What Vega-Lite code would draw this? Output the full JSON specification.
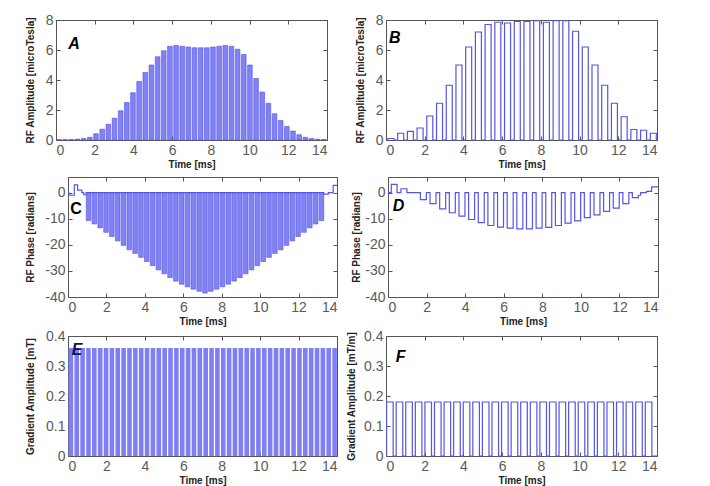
{
  "$schema": "https://vega.github.io/schema/vega-lite/v6.json",
  "background": "white",
  "padding": {"left": 23, "top": 12, "right": 0, "bottom": 0},
  "config": {
    "font": "Liberation Sans",
    "view": {"stroke": "#555555", "strokeWidth": 1},
    "axis": {
      "labelFont": "Liberation Sans", "labelFontSize": 14, "labelColor": "#5a5a5a",
      "titleFont": "Liberation Sans", "titleFontSize": 10, "titleFontWeight": "bold", "titleColor": "#222222",
      "tickColor": "#555555", "tickSize": -4, "domain": false, "grid": false,
      "labelPadding": 7, "titlePadding": 2
    },
    "axisY": {"titleFontSize": 10, "titleBaseline": "middle"}
  },
  "datasets": {
    "a": [
      {"t0":0.04,"t1":0.28,"v":0.03},{"t0":0.358,"t1":0.598,"v":0.03},{"t0":0.676,"t1":0.916,"v":0.04},{"t0":0.994,"t1":1.234,"v":0.06},
      {"t0":1.312,"t1":1.552,"v":0.1},{"t0":1.63,"t1":1.87,"v":0.18},{"t0":1.948,"t1":2.188,"v":0.42},{"t0":2.266,"t1":2.506,"v":0.72},
      {"t0":2.584,"t1":2.824,"v":1.05},{"t0":2.902,"t1":3.142,"v":1.45},{"t0":3.22,"t1":3.46,"v":1.95},{"t0":3.538,"t1":3.778,"v":2.5},
      {"t0":3.856,"t1":4.096,"v":3.15},{"t0":4.174,"t1":4.414,"v":3.9},{"t0":4.492,"t1":4.732,"v":4.5},{"t0":4.81,"t1":5.05,"v":5.0},
      {"t0":5.128,"t1":5.368,"v":5.55},{"t0":5.446,"t1":5.686,"v":5.95},{"t0":5.764,"t1":6.004,"v":6.25},{"t0":6.082,"t1":6.322,"v":6.3},
      {"t0":6.4,"t1":6.64,"v":6.25},{"t0":6.718,"t1":6.958,"v":6.2},{"t0":7.036,"t1":7.276,"v":6.15},{"t0":7.354,"t1":7.594,"v":6.15},
      {"t0":7.672,"t1":7.912,"v":6.15},{"t0":7.99,"t1":8.23,"v":6.2},{"t0":8.308,"t1":8.548,"v":6.25},{"t0":8.626,"t1":8.866,"v":6.3},
      {"t0":8.944,"t1":9.184,"v":6.25},{"t0":9.262,"t1":9.502,"v":6.05},{"t0":9.58,"t1":9.82,"v":5.7},{"t0":9.898,"t1":10.138,"v":5.0},
      {"t0":10.216,"t1":10.456,"v":4.1},{"t0":10.534,"t1":10.774,"v":3.2},{"t0":10.852,"t1":11.092,"v":2.45},{"t0":11.17,"t1":11.41,"v":1.75},
      {"t0":11.488,"t1":11.728,"v":1.3},{"t0":11.806,"t1":12.046,"v":0.9},{"t0":12.124,"t1":12.364,"v":0.6},{"t0":12.442,"t1":12.682,"v":0.35},
      {"t0":12.76,"t1":13.0,"v":0.18},{"t0":13.078,"t1":13.318,"v":0.1},{"t0":13.396,"t1":13.636,"v":0.05},{"t0":13.714,"t1":13.954,"v":0.04}
    ],
    "b": [
      {"t":0,"v":0},
      {"t":0.1,"v":0.1},{"t":0.41,"v":0},{"t":0.602,"v":0.45},{"t":0.912,"v":0},{"t":1.104,"v":0.57},{"t":1.414,"v":0},
      {"t":1.606,"v":0.8},{"t":1.916,"v":0},{"t":2.108,"v":1.6},{"t":2.418,"v":0},{"t":2.61,"v":2.45},{"t":2.92,"v":0},
      {"t":3.112,"v":3.65},{"t":3.422,"v":0},{"t":3.614,"v":5.0},{"t":3.924,"v":0},{"t":4.116,"v":6.2},{"t":4.426,"v":0},
      {"t":4.618,"v":7.2},{"t":4.928,"v":0},{"t":5.12,"v":7.7},{"t":5.43,"v":0},{"t":5.622,"v":7.85},{"t":5.932,"v":0},
      {"t":6.124,"v":7.8},{"t":6.434,"v":0},{"t":6.626,"v":7.9},{"t":6.936,"v":0},{"t":7.128,"v":7.9},{"t":7.438,"v":0},
      {"t":7.63,"v":7.95},{"t":7.94,"v":0},{"t":8.132,"v":7.85},{"t":8.442,"v":0},{"t":8.634,"v":7.95},{"t":8.944,"v":0},
      {"t":9.136,"v":7.95},{"t":9.446,"v":0},{"t":9.638,"v":7.25},{"t":9.948,"v":0},{"t":10.14,"v":6.2},{"t":10.45,"v":0},
      {"t":10.642,"v":5.0},{"t":10.952,"v":0},{"t":11.144,"v":3.65},{"t":11.454,"v":0},{"t":11.646,"v":2.45},{"t":11.956,"v":0},
      {"t":12.148,"v":1.55},{"t":12.458,"v":0},{"t":12.65,"v":0.7},{"t":12.96,"v":0},{"t":13.152,"v":0.65},{"t":13.462,"v":0},
      {"t":13.654,"v":0.45},{"t":13.964,"v":0},{"t":14,"v":0}
    ],
    "c": [
      {"t0":0.95,"t1":1.19,"v":-10.7},{"t0":1.253,"t1":1.493,"v":-12.0},{"t0":1.556,"t1":1.796,"v":-13.5},{"t0":1.859,"t1":2.099,"v":-15.2},
      {"t0":2.162,"t1":2.402,"v":-16.8},{"t0":2.465,"t1":2.705,"v":-18.5},{"t0":2.768,"t1":3.008,"v":-20.2},{"t0":3.071,"t1":3.311,"v":-21.9},
      {"t0":3.374,"t1":3.614,"v":-23.3},{"t0":3.677,"t1":3.917,"v":-24.8},{"t0":3.98,"t1":4.22,"v":-26.4},{"t0":4.283,"t1":4.523,"v":-28.0},
      {"t0":4.586,"t1":4.826,"v":-29.6},{"t0":4.889,"t1":5.129,"v":-31.1},{"t0":5.192,"t1":5.432,"v":-32.6},{"t0":5.495,"t1":5.735,"v":-33.9},
      {"t0":5.798,"t1":6.038,"v":-35.1},{"t0":6.101,"t1":6.341,"v":-36.1},{"t0":6.404,"t1":6.644,"v":-37.0},{"t0":6.707,"t1":6.947,"v":-37.8},
      {"t0":7.01,"t1":7.25,"v":-38.5},{"t0":7.313,"t1":7.553,"v":-37.8},{"t0":7.616,"t1":7.856,"v":-37.0},{"t0":7.919,"t1":8.159,"v":-36.1},
      {"t0":8.222,"t1":8.462,"v":-35.1},{"t0":8.525,"t1":8.765,"v":-33.9},{"t0":8.828,"t1":9.068,"v":-32.6},{"t0":9.131,"t1":9.371,"v":-31.1},
      {"t0":9.434,"t1":9.674,"v":-29.6},{"t0":9.737,"t1":9.977,"v":-28.0},{"t0":10.04,"t1":10.28,"v":-26.4},{"t0":10.343,"t1":10.583,"v":-24.8},
      {"t0":10.646,"t1":10.886,"v":-23.3},{"t0":10.949,"t1":11.189,"v":-21.9},{"t0":11.252,"t1":11.492,"v":-20.2},{"t0":11.555,"t1":11.795,"v":-18.5},
      {"t0":11.858,"t1":12.098,"v":-16.8},{"t0":12.161,"t1":12.401,"v":-15.2},{"t0":12.464,"t1":12.704,"v":-13.5},{"t0":12.767,"t1":13.007,"v":-12.0},
      {"t0":13.07,"t1":13.31,"v":-10.7}
    ],
    "cw": [
      {"t":0,"v":-0.3},{"t":0.1,"v":-1},{"t":0.33,"v":3},{"t":0.5,"v":1},{"t":0.72,"v":0},{"t":0.82,"v":-0.8},{"t":0.95,"v":0},
      {"t":13.31,"v":-0.6},{"t":13.55,"v":0},{"t":13.8,"v":2.8},{"t":14,"v":2.8}
    ],
    "d": [
      {"t":0,"v":0},{"t":0.17,"v":3.2},{"t":0.47,"v":0},{"t":0.67,"v":1.5},{"t":0.98,"v":0},
      {"t":1.68,"v":-2.7},{"t":1.99,"v":0},{"t":2.18,"v":-4.2},{"t":2.49,"v":0},{"t":2.68,"v":-6.2},{"t":2.99,"v":0},
      {"t":3.18,"v":-7.7},{"t":3.49,"v":0},{"t":3.68,"v":-9.0},{"t":3.99,"v":0},{"t":4.18,"v":-10.3},{"t":4.49,"v":0},
      {"t":4.68,"v":-11.5},{"t":4.99,"v":0},{"t":5.18,"v":-12.6},{"t":5.49,"v":0},{"t":5.68,"v":-13.2},{"t":5.99,"v":0},
      {"t":6.18,"v":-13.6},{"t":6.49,"v":0},{"t":6.68,"v":-13.9},{"t":6.99,"v":0},{"t":7.18,"v":-13.9},{"t":7.49,"v":0},
      {"t":7.68,"v":-13.6},{"t":7.99,"v":0},{"t":8.18,"v":-13.3},{"t":8.49,"v":0},{"t":8.68,"v":-12.6},{"t":8.99,"v":0},
      {"t":9.18,"v":-11.7},{"t":9.49,"v":0},{"t":9.68,"v":-10.8},{"t":9.99,"v":0},{"t":10.18,"v":-9.6},{"t":10.49,"v":0},
      {"t":10.68,"v":-8.5},{"t":10.99,"v":0},{"t":11.18,"v":-7.2},{"t":11.49,"v":0},{"t":11.68,"v":-5.9},{"t":11.99,"v":0},
      {"t":12.18,"v":-4.2},{"t":12.49,"v":0},{"t":12.67,"v":-1.9},{"t":12.98,"v":-1.0},{"t":13.1,"v":0},{"t":13.4,"v":0.5},
      {"t":13.67,"v":2.2},{"t":14,"v":2.2}
    ],
    "e": [
      {"t0":0.03,"t1":0.27,"v":0.36},{"t0":0.335,"t1":0.575,"v":0.36},{"t0":0.64,"t1":0.88,"v":0.36},{"t0":0.945,"t1":1.185,"v":0.36},
      {"t0":1.25,"t1":1.49,"v":0.36},{"t0":1.555,"t1":1.795,"v":0.36},{"t0":1.86,"t1":2.1,"v":0.36},{"t0":2.165,"t1":2.405,"v":0.36},
      {"t0":2.47,"t1":2.71,"v":0.36},{"t0":2.775,"t1":3.015,"v":0.36},{"t0":3.08,"t1":3.32,"v":0.36},{"t0":3.385,"t1":3.625,"v":0.36},
      {"t0":3.69,"t1":3.93,"v":0.36},{"t0":3.995,"t1":4.235,"v":0.36},{"t0":4.3,"t1":4.54,"v":0.36},{"t0":4.605,"t1":4.845,"v":0.36},
      {"t0":4.91,"t1":5.15,"v":0.36},{"t0":5.215,"t1":5.455,"v":0.36},{"t0":5.52,"t1":5.76,"v":0.36},{"t0":5.825,"t1":6.065,"v":0.36},
      {"t0":6.13,"t1":6.37,"v":0.36},{"t0":6.435,"t1":6.675,"v":0.36},{"t0":6.74,"t1":6.98,"v":0.36},{"t0":7.045,"t1":7.285,"v":0.36},
      {"t0":7.35,"t1":7.59,"v":0.36},{"t0":7.655,"t1":7.895,"v":0.36},{"t0":7.96,"t1":8.2,"v":0.36},{"t0":8.265,"t1":8.505,"v":0.36},
      {"t0":8.57,"t1":8.81,"v":0.36},{"t0":8.875,"t1":9.115,"v":0.36},{"t0":9.18,"t1":9.42,"v":0.36},{"t0":9.485,"t1":9.725,"v":0.36},
      {"t0":9.79,"t1":10.03,"v":0.36},{"t0":10.095,"t1":10.335,"v":0.36},{"t0":10.4,"t1":10.64,"v":0.36},{"t0":10.705,"t1":10.945,"v":0.36},
      {"t0":11.01,"t1":11.25,"v":0.36},{"t0":11.315,"t1":11.555,"v":0.36},{"t0":11.62,"t1":11.86,"v":0.36},{"t0":11.925,"t1":12.165,"v":0.36},
      {"t0":12.23,"t1":12.47,"v":0.36},{"t0":12.535,"t1":12.775,"v":0.36},{"t0":12.84,"t1":13.08,"v":0.36},{"t0":13.145,"t1":13.385,"v":0.36},
      {"t0":13.45,"t1":13.69,"v":0.36},{"t0":13.755,"t1":13.995,"v":0.36}
    ],
    "f": [
      {"t":0,"v":0},
      {"t":0.03,"v":0.18},{"t":0.37,"v":0},{"t":0.525,"v":0.18},{"t":0.865,"v":0},{"t":1.02,"v":0.18},{"t":1.36,"v":0},
      {"t":1.515,"v":0.18},{"t":1.855,"v":0},{"t":2.01,"v":0.18},{"t":2.35,"v":0},{"t":2.505,"v":0.18},{"t":2.845,"v":0},
      {"t":3.0,"v":0.18},{"t":3.34,"v":0},{"t":3.495,"v":0.18},{"t":3.835,"v":0},{"t":3.99,"v":0.18},{"t":4.33,"v":0},
      {"t":4.485,"v":0.18},{"t":4.825,"v":0},{"t":4.98,"v":0.18},{"t":5.32,"v":0},{"t":5.475,"v":0.18},{"t":5.815,"v":0},
      {"t":5.97,"v":0.18},{"t":6.31,"v":0},{"t":6.465,"v":0.18},{"t":6.805,"v":0},{"t":6.96,"v":0.18},{"t":7.3,"v":0},
      {"t":7.455,"v":0.18},{"t":7.795,"v":0},{"t":7.95,"v":0.18},{"t":8.29,"v":0},{"t":8.445,"v":0.18},{"t":8.785,"v":0},
      {"t":8.94,"v":0.18},{"t":9.28,"v":0},{"t":9.435,"v":0.18},{"t":9.775,"v":0},{"t":9.93,"v":0.18},{"t":10.27,"v":0},
      {"t":10.425,"v":0.18},{"t":10.765,"v":0},{"t":10.92,"v":0.18},{"t":11.26,"v":0},{"t":11.415,"v":0.18},{"t":11.755,"v":0},
      {"t":11.91,"v":0.18},{"t":12.25,"v":0},{"t":12.405,"v":0.18},{"t":12.745,"v":0},{"t":12.9,"v":0.18},{"t":13.24,"v":0},
      {"t":13.395,"v":0.18},{"t":13.735,"v":0},{"t":14,"v":0}
    ]
  },
  "concat": [
    {
      "hconcat": [
        {
          "hconcat": [
            {"width": 1, "height": 1, "view": {"stroke": null}, "data": {"values": []}, "mark": "point", "encoding": {}},
            {
              "width": 271, "height": 120,
              "layer": [
                {
                  "data": {"name": "a"},
                  "mark": {"type": "rect", "fill": "#8282f4", "stroke": "#5050e6", "strokeWidth": 0.6},
                  "encoding": {
                    "x": {"field": "t0", "type": "quantitative", "scale": {"domain": [0, 14], "nice": false},
                          "axis": {"orient": "bottom", "values": [0,2,4,6,8,10,12,14], "title": "Time [ms]"}},
                    "x2": {"field": "t1"},
                    "y": {"field": "v", "type": "quantitative", "scale": {"domain": [0, 8], "nice": false},
                          "axis": {"values": [0,2,4,6,8], "title": "RF Amplitude [microTesla]", "titleX": -26}},
                    "y2": {"datum": 0}
                  }
                },
                {
                  "data": {"values": [{"t": 0.93, "v": 6.43, "lab": "A"}]},
                  "mark": {"type": "text", "font": "Liberation Sans", "fontSize": 16, "fontWeight": "bold", "fontStyle": "italic", "color": "black"},
                  "encoding": {
                    "x": {"field": "t", "type": "quantitative", "axis": {"orient": "top", "labels": false, "title": null, "values": [0,2,4,6,8,10,12,14]}},
                    "y": {"field": "v", "type": "quantitative", "axis": {"orient": "right", "labels": false, "title": null, "values": [0,2,4,6,8]}},
                    "text": {"field": "lab"}
                  }
                }
              ],
              "resolve": {"axis": {"x": "independent", "y": "independent"}}
            }
          ],
          "spacing": 0
        },
        {
          "width": 271, "height": 120,
          "layer": [
            {
              "data": {"name": "b"},
              "mark": {"type": "line", "interpolate": "step-after", "color": "#5555e6", "strokeWidth": 1.2},
              "encoding": {
                "x": {"field": "t", "type": "quantitative", "scale": {"domain": [0, 14], "nice": false},
                      "axis": {"orient": "bottom", "values": [0,2,4,6,8,10,12,14], "title": "Time [ms]"}},
                "y": {"field": "v", "type": "quantitative", "scale": {"domain": [0, 8], "nice": false},
                      "axis": {"values": [0,2,4,6,8], "title": "RF Amplitude [microTesla]", "titleX": -26}}
              }
            },
            {
              "data": {"values": [{"t": 0.46, "v": 6.8, "lab": "B"}]},
              "mark": {"type": "text", "font": "Liberation Sans", "fontSize": 16, "fontWeight": "bold", "fontStyle": "italic", "color": "black"},
              "encoding": {
                "x": {"field": "t", "type": "quantitative", "axis": {"orient": "top", "labels": false, "title": null, "values": [0,2,4,6,8,10,12,14]}},
                "y": {"field": "v", "type": "quantitative", "axis": {"orient": "right", "labels": false, "title": null, "values": [0,2,4,6,8]}},
                "text": {"field": "lab"}
              }
            }
          ],
          "resolve": {"axis": {"x": "independent", "y": "independent"}}
        }
      ],
      "spacing": 26
    },
    {
      "concat": [
        {
          "hconcat": [
            {
              "hconcat": [
                {"width": 1, "height": 1, "view": {"stroke": null}, "data": {"values": []}, "mark": "point", "encoding": {}},
                {
                  "width": 269, "height": 120,
                  "layer": [
                    {
                      "data": {"name": "c"},
                      "mark": {"type": "rect", "fill": "#8282f4", "stroke": "#5050e6", "strokeWidth": 0.6},
                      "encoding": {
                        "x": {"field": "t0", "type": "quantitative", "scale": {"domain": [0, 14], "nice": false},
                              "axis": {"orient": "bottom", "values": [0,2,4,6,8,10,12,14], "title": "Time [ms]"}},
                        "x2": {"field": "t1"},
                        "y": {"field": "v", "type": "quantitative", "scale": {"domain": [-40, 6], "nice": false},
                              "axis": {"values": [0,-10,-20,-30,-40], "labelExpr": "datum.value + ''", "title": "RF Phase [radians]", "titleX": -38}},
                        "y2": {"datum": 0}
                      }
                    },
                    {
                      "data": {"name": "cw"},
                      "mark": {"type": "line", "interpolate": "step-after", "color": "#5555e6", "strokeWidth": 1.2},
                      "encoding": {
                        "x": {"field": "t", "type": "quantitative", "axis": null},
                        "y": {"field": "v", "type": "quantitative", "axis": null}
                      }
                    },
                    {
                      "data": {"values": [{"t": 0.42, "v": -6.1, "lab": "C"}]},
                      "mark": {"type": "text", "font": "Liberation Sans", "fontSize": 16, "fontWeight": "bold", "color": "black"},
                      "encoding": {
                        "x": {"field": "t", "type": "quantitative", "axis": {"orient": "top", "labels": false, "title": null, "values": [0,2,4,6,8,10,12,14]}},
                        "y": {"field": "v", "type": "quantitative", "axis": {"orient": "right", "labels": false, "title": null, "values": [0,-10,-20,-30,-40]}},
                        "text": {"field": "lab"}
                      }
                    }
                  ],
                  "resolve": {"axis": {"x": "independent", "y": "independent"}}
                }
              ],
              "spacing": 0
            },
            {
              "width": 270, "height": 120,
              "layer": [
                {
                  "data": {"name": "d"},
                  "mark": {"type": "line", "interpolate": "step-after", "color": "#5555e6", "strokeWidth": 1.2},
                  "encoding": {
                    "x": {"field": "t", "type": "quantitative", "scale": {"domain": [0, 14], "nice": false},
                          "axis": {"orient": "bottom", "values": [0,2,4,6,8,10,12,14], "title": "Time [ms]"}},
                    "y": {"field": "v", "type": "quantitative", "scale": {"domain": [-40, 6], "nice": false},
                          "axis": {"values": [0,-10,-20,-30,-40], "labelExpr": "datum.value + ''", "title": "RF Phase [radians]", "titleX": -32}}
                  }
                },
                {
                  "data": {"values": [{"t": 0.54, "v": -5.0, "lab": "D"}]},
                  "mark": {"type": "text", "font": "Liberation Sans", "fontSize": 16, "fontWeight": "bold", "fontStyle": "italic", "color": "black"},
                  "encoding": {
                    "x": {"field": "t", "type": "quantitative", "axis": {"orient": "top", "labels": false, "title": null, "values": [0,2,4,6,8,10,12,14]}},
                    "y": {"field": "v", "type": "quantitative", "axis": {"orient": "right", "labels": false, "title": null, "values": [0,-10,-20,-30,-40]}},
                    "text": {"field": "lab"}
                  }
                }
              ],
              "resolve": {"axis": {"x": "independent", "y": "independent"}}
            }
          ],
          "spacing": 10
        },
        {
          "hconcat": [
            {
              "hconcat": [
                {"width": 1, "height": 1, "view": {"stroke": null}, "data": {"values": []}, "mark": "point", "encoding": {}},
                {
                  "width": 269, "height": 120,
                  "layer": [
                    {
                      "data": {"name": "e"},
                      "mark": {"type": "rect", "fill": "#7f7ff3"},
                      "encoding": {
                        "x": {"field": "t0", "type": "quantitative", "scale": {"domain": [0, 14], "nice": false},
                              "axis": {"orient": "bottom", "values": [0,2,4,6,8,10,12,14], "title": "Time [ms]"}},
                        "x2": {"field": "t1"},
                        "y": {"field": "v", "type": "quantitative", "scale": {"domain": [0, 0.4], "nice": false},
                              "axis": {"values": [0,0.1,0.2,0.3,0.4], "format": "~g", "title": "Gradient Amplitude [mT]", "titleX": -38}},
                        "y2": {"datum": 0}
                      }
                    },
                    {
                      "data": {"values": [{"t": 0.47, "v": 0.353, "lab": "E"}]},
                      "mark": {"type": "text", "font": "Liberation Sans", "fontSize": 16, "fontWeight": "bold", "fontStyle": "italic", "color": "#111155"},
                      "encoding": {
                        "x": {"field": "t", "type": "quantitative", "axis": {"orient": "top", "labels": false, "title": null, "values": [0,2,4,6,8,10,12,14]}},
                        "y": {"field": "v", "type": "quantitative", "axis": {"orient": "right", "labels": false, "title": null, "values": [0,0.1,0.2,0.3,0.4]}},
                        "text": {"field": "lab"}
                      }
                    }
                  ],
                  "resolve": {"axis": {"x": "independent", "y": "independent"}}
                }
              ],
              "spacing": 0
            },
            {
              "width": 271, "height": 120,
              "layer": [
                {
                  "data": {"name": "f"},
                  "mark": {"type": "line", "interpolate": "step-after", "color": "#5555e6", "strokeWidth": 1.2},
                  "encoding": {
                    "x": {"field": "t", "type": "quantitative", "scale": {"domain": [0, 14], "nice": false},
                          "axis": {"orient": "bottom", "values": [0,2,4,6,8,10,12,14], "title": "Time [ms]"}},
                    "y": {"field": "v", "type": "quantitative", "scale": {"domain": [0, 0.4], "nice": false},
                          "axis": {"values": [0,0.1,0.2,0.3,0.4], "format": "~g", "title": "Gradient Amplitude [mT/m]", "titleX": -35}}
                  }
                },
                {
                  "data": {"values": [{"t": 0.75, "v": 0.331, "lab": "F"}]},
                  "mark": {"type": "text", "font": "Liberation Sans", "fontSize": 16, "fontWeight": "bold", "fontStyle": "italic", "color": "black"},
                  "encoding": {
                    "x": {"field": "t", "type": "quantitative", "axis": {"orient": "top", "labels": false, "title": null, "values": [0,2,4,6,8,10,12,14]}},
                    "y": {"field": "v", "type": "quantitative", "axis": {"orient": "right", "labels": false, "title": null, "values": [0,0.1,0.2,0.3,0.4]}},
                    "text": {"field": "lab"}
                  }
                }
              ],
              "resolve": {"axis": {"x": "independent", "y": "independent"}}
            }
          ],
          "spacing": 7
        }
      ],
      "columns": 1,
      "align": "none",
      "spacing": 1
    }
  ],
  "columns": 1,
  "align": "none",
  "spacing": 6
}
